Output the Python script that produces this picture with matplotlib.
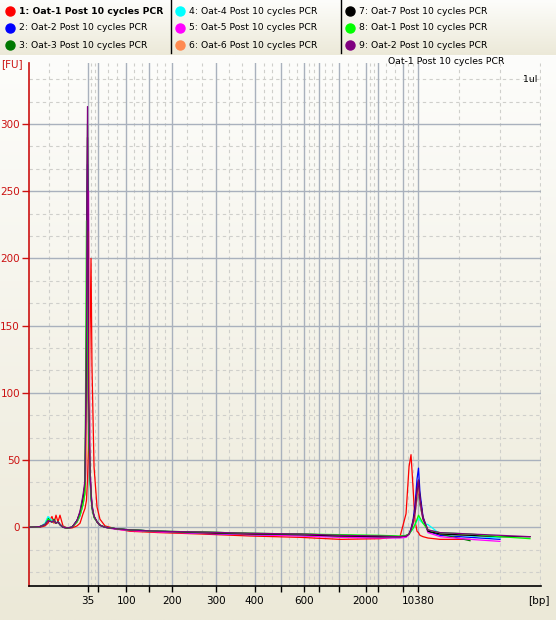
import numpy as np
import matplotlib
matplotlib.use("Agg")
import matplotlib.pyplot as plt

nan = np.nan

# migration time (s) of sample points
time_s = [40.0, 41.72, 42.5, 42.97, 43.59, 43.91, 44.22, 44.53, 44.84, 45.31,
          45.94, 46.72, 47.5, 47.97, 48.44, 48.75, 48.98, 49.14, 49.30, 49.53,
          49.69, 49.84, 50.16, 50.63, 51.09, 51.88, 53.44, 55.78, 60.47, 66.72,
          74.53, 82.34, 88.59, 94.84, 97.97, 98.91, 99.38, 99.69, 100.0, 100.31,
          100.63, 100.86, 101.09, 101.56, 102.34, 104.22, 108.91, 113.59, 118.28]

# fluorescence [FU] per sample
fu_1 = [0, 0, 1, 3, 8, 3, 9, 4, 9, 1, -0.5, -0.5, 1, 3, 10, 14, 20, 35, 60, 140,
        200, 120, 45, 15, 6, 1, -1, -3, -4, -5, -6.5, -7.5, -9, -8.5, -7, 10, 45, 54, 30, 5,
        -3, -4, -6, -7, -8, -9, -9, nan, nan]
fu_2 = [0, 0.5, 2, 5, 4, 5, 3, 4, 2, 0, -0.5, 0, 5, 10, 20, 32, 90, 270, 140, 45,
        27, 17, 8, 4, 1.5, 0, -1, -2, -3, -4.5, -5.5, -6, -7, -7.5, -7.5, -7, -5, -1, 5, 16,
        36, 44, 26, 8, -3, -6, -7.5, -9, nan]
fu_3 = [0, 0.5, 2, 7, 4, 6, 3, 4, 2, 0, -0.5, 0, 4, 9, 18, 28, 120, 300, 90, 38,
        24, 15, 8, 4, 1.5, 0, -1, -2, -3, -3.5, -4.5, -5, -6, -6.5, -7, -6.5, -5, -2, 3, 10,
        22, 28, 17, 6, -3, -5, -10, nan, nan]
fu_4 = [0, 0.5, 3, 8, 5, 5, 3, 4, 2, 0, -0.5, 0, 4, 8, 17, 26, 70, 232, 100, 38,
        24, 15, 8, 4, 1.5, 0, -1, -2, -3, -4, -5, -5.5, -6.5, -7, -7, -6.5, -5, -3, -1, 2,
        5, 7, 5, 3, 2, -5, -6.5, -8, nan]
fu_5 = [0, 0.5, 2, 5, 4, 5, 3, 4, 2, 0, -0.5, 0, 4, 9, 17, 26, 60, 150, 250, 45,
        26, 16, 8, 4, 1.5, 0, -1.5, -2.5, -3.5, -4.5, -5.5, -6.5, -7.5, -8, -8, -7.5, -5.5, -2, 3, 10,
        24, 30, 19, 6, -4, -7, -9, -10.5, nan]
fu_6 = [0, 0.5, 2, 5, 4, 5, 3, 4, 2, 0, -0.5, 0, 4, 9, 17, 25, 55, 140, 220, 45,
        26, 16, 8, 4, 1.5, 0, -1, -2, -3, -4, -5, -5.5, -6.5, -7, -7, -6.5, -5, -2, 3, 10,
        23, 30, 20, 7, -2, -5, -6, -7, nan]
fu_7 = [0, 0.5, 2, 5, 4, 5, 3, 4, 2, 0, -0.5, 0, 5, 11, 22, 32, 130, 290, 95, 40,
        25, 15, 8, 4, 1.5, 0, -1, -2, -3, -4, -5, -5.5, -6.5, -7, -7, -6.5, -5, -2, 4, 12,
        28, 35, 22, 7, -3, -5, -6, -7, -7]
fu_8 = [0, 0.5, 2, 6, 4, 5, 3, 4, 2, 0, -0.5, 0, 4, 9, 17, 26, 228, 150, 80, 35,
        22, 14, 7, 4, 1.5, 0, -1, -2, -3, -3.5, -4.5, -5, -5.5, -6, -6.5, -6, -5, -3, -1, 2,
        6, 9, 7, 3, -2, -4, -5, -7, -8.5]
fu_9 = [0, 0.5, 2, 5, 4, 5, 3, 4, 2, 0, -0.5, 0, 5, 12, 24, 35, 150, 313, 100, 40,
        25, 15, 8, 4, 1.5, 0, -1, -2, -3, -3.5, -4.5, -5, -6, -6.5, -7, -6.5, -5, -2, 4, 12,
        28, 35, 22, 7, -2, -4, -5, -6, -7]

samples = ["1: Oat-1 Post 10 cycles PCR", "2: Oat-2 Post 10 cycles PCR", "3: Oat-3 Post 10 cycles PCR",
           "4: Oat-4 Post 10 cycles PCR", "5: Oat-5 Post 10 cycles PCR", "6: Oat-6 Post 10 cycles PCR",
           "7: Oat-7 Post 10 cycles PCR", "8: Oat-1 Post 10 cycles PCR", "9: Oat-2 Post 10 cycles PCR"]
colors = ["#ff0000", "#0000ff", "#007800", "#00ffff", "#ff00ff", "#ff8a50",
          "#000000", "#00ff00", "#800080"]
traces = [fu_1, fu_2, fu_3, fu_4, fu_5, fu_6, fu_7, fu_8, fu_9]

# ladder peaks (bp) and their migration times
ladder_bp = [35, 50, 100, 150, 200, 300, 400, 500, 600, 700, 1000, 2000, 3000, 7000, 10380]
ladder_time = [49.17, 50.83, 55.20, 58.80, 62.39, 69.27, 75.27, 79.42, 83.02, 85.27,
               88.39, 92.61, 94.58, 98.39, 100.83]
shown_bp = [35, 100, 200, 300, 400, 600, 2000, 10380]

W, H = 556, 620
fig = plt.figure(figsize=(W / 100, H / 100), dpi=100)

# background gradients
bg = fig.add_axes([0, 0, 1, 1], zorder=-10)
bg.axis("off")
top_c = np.array([253, 253, 251]) / 255
bot_c = np.array([236, 233, 216]) / 255
g = np.linspace(0, 1, 256)[:, None, None]
grad = top_c * (1 - g) + bot_c * g
bg.imshow(np.repeat(grad, 2, axis=1), aspect="auto", extent=[0, 1, 0, 1 - 55 / H])
bg.imshow(np.repeat(grad, 2, axis=1), aspect="auto", extent=[0, 1, 1 - 55 / H, 1])
bg.set_xlim(0, 1)
bg.set_ylim(0, 1)

# legend panel
lg = fig.add_axes([0, 1 - 55 / H, 1, 55 / H])
lg.set_xlim(0, W)
lg.set_ylim(55, 0)
lg.axis("off")
for i, (name, c) in enumerate(zip(samples, colors)):
    col, row = divmod(i, 3)
    x0 = 10 + col * 170
    y0 = 11 + row * 17
    lg.plot(x0, y0, "o", ms=6.5, color=c, mec=c)
    lg.text(x0 + 9, y0, name, va="center", ha="left", fontsize=6.7,
            fontweight="bold" if i == 0 else "normal", color="black")
for xs in [170.5, 340.5]:
    lg.plot([xs, xs], [0, 53], color="black", lw=1)

ax = fig.add_axes([29 / W, 1 - 586 / H, 512 / W, (586 - 63) / H])
ax.patch.set_alpha(0)
ax.set_xlim(40, 120)
ax.set_ylim(-43.7, 345.4)

# grid
solid_c = "#a9b1bd"
dash_c = "#cfcfcb"
for yv in range(0, 301, 50):
    ax.axhline(yv, color=solid_c, lw=1, zorder=1)
for yv in np.arange(-50, 350, 50):
    for f in (1 / 3, 2 / 3):
        ax.axhline(yv + 50 * f, color=dash_c, lw=0.8, ls=(0, (3, 3)), zorder=0.5)
edges = [40.0] + ladder_time
for xv in ladder_time:
    ax.axvline(xv, color=solid_c, lw=1, zorder=1)
for a, b in zip(edges[:-1], edges[1:]):
    for f in (1 / 3, 2 / 3):
        ax.axvline(a + (b - a) * f, color=dash_c, lw=0.8, ls=(0, (3, 3)), zorder=0.5)
step = 6.36
xv = ladder_time[-1] + step
while xv < 120.5:
    ax.axvline(xv, color=dash_c, lw=0.8, ls=(0, (3, 3)), zorder=0.5)
    xv += step

order = [1, 2, 3, 4, 5, 6, 7, 8, 0]
for i in order:
    ax.plot(time_s, traces[i], color=colors[i], lw=0.9, zorder=3 + i)

ax.spines["top"].set_visible(False)
ax.spines["right"].set_visible(False)
ax.spines["left"].set_color("#cc1111")
ax.spines["bottom"].set_color("black")
ax.spines["left"].set_linewidth(1.2)
ax.spines["bottom"].set_linewidth(1.2)

ax.set_yticks(range(0, 301, 50))
ax.tick_params(axis="y", colors="#cc1111", direction="out", length=5, width=1,
               labelsize=7.5, pad=1.5)
ax.set_xticks(ladder_time)
ax.set_xticklabels([str(b) if b in shown_bp else "" for b in ladder_bp])
ax.tick_params(axis="x", colors="black", direction="out", length=4.5, width=1,
               labelsize=7.5, pad=3)

fig.text(1 / W, 1 - 64 / H, "[FU]", color="#cc1111", fontsize=7.5, ha="left", va="center")
fig.text(550 / W, 1 - 601 / H, "[bp]", color="black", fontsize=7.5, ha="right", va="center")
fig.text(504 / W, 1 - 62 / H, "Oat-1 Post 10 cycles PCR", fontsize=6.7, ha="right", va="center")
fig.text(537 / W, 1 - 79 / H, "1ul", fontsize=6.7, ha="right", va="center")

fig.savefig("out.png", dpi=100)
